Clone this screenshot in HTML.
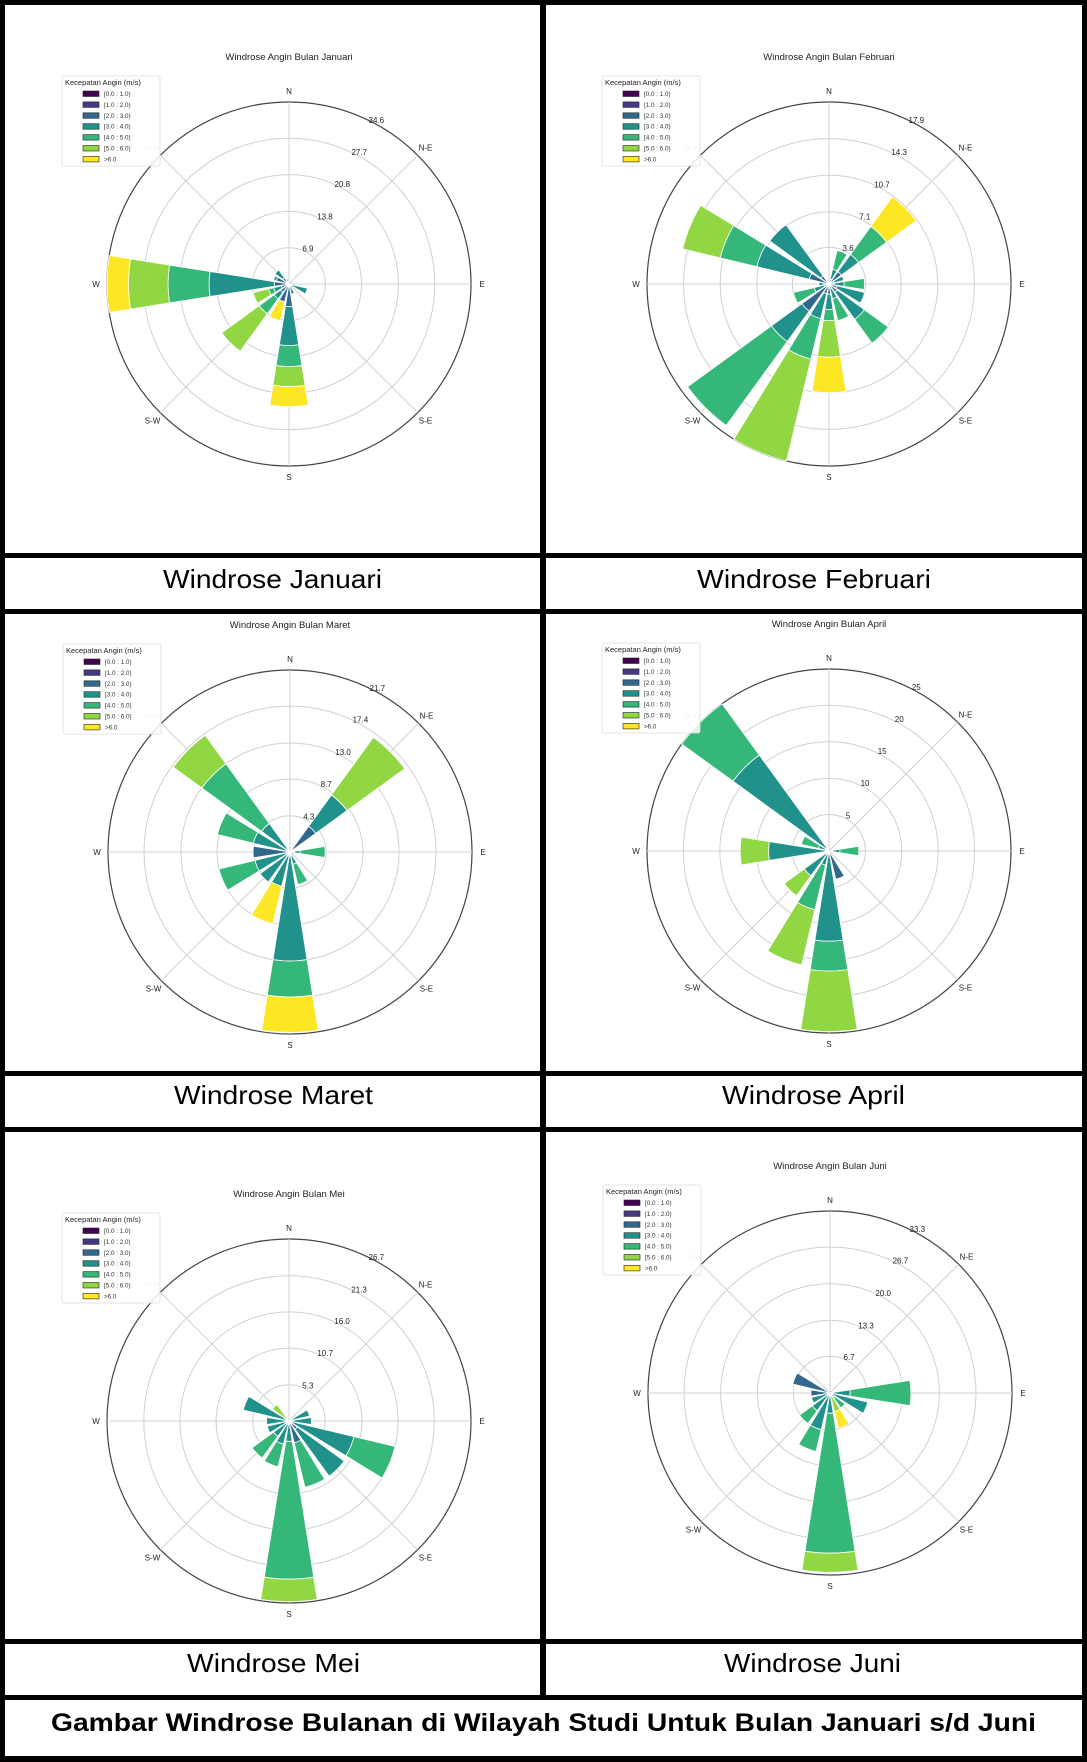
<!DOCTYPE html>
<html><head><meta charset="utf-8"><title>Windrose Bulanan</title>
<style>
html,body{margin:0;padding:0;background:#fff}
svg{display:block;font-family:"Liberation Sans",Arial,sans-serif}
</style></head>
<body>
<svg id="root" width="1087" height="1762" viewBox="0 0 1087 1762" xmlns="http://www.w3.org/2000/svg">
<rect x="0" y="0" width="1087" height="1762" fill="#000"/>
<g fill="#fff">
<rect x="5" y="5" width="535" height="548"/>
<rect x="546" y="5" width="536" height="548"/>
<rect x="5" y="558" width="535" height="51"/>
<rect x="546" y="558" width="536" height="51"/>
<rect x="5" y="614" width="535" height="457"/>
<rect x="546" y="614" width="536" height="457"/>
<rect x="5" y="1076" width="535" height="51"/>
<rect x="546" y="1076" width="536" height="51"/>
<rect x="5" y="1132" width="535" height="507"/>
<rect x="546" y="1132" width="536" height="507"/>
<rect x="5" y="1644" width="535" height="51"/>
<rect x="546" y="1644" width="536" height="51"/>
<rect x="5" y="1700" width="1077" height="56"/>
</g>
<g font-size="26" fill="#000">
<text x="163" y="588" textLength="219" lengthAdjust="spacingAndGlyphs">Windrose Januari</text>
<text x="697" y="588" textLength="234" lengthAdjust="spacingAndGlyphs">Windrose Februari</text>
<text x="174" y="1104" textLength="199" lengthAdjust="spacingAndGlyphs">Windrose Maret</text>
<text x="722" y="1104" textLength="183" lengthAdjust="spacingAndGlyphs">Windrose April</text>
<text x="187" y="1672" textLength="173" lengthAdjust="spacingAndGlyphs">Windrose Mei</text>
<text x="724" y="1672" textLength="177" lengthAdjust="spacingAndGlyphs">Windrose Juni</text>
<text x="51" y="1731" font-weight="bold" font-size="25" textLength="985" lengthAdjust="spacingAndGlyphs">Gambar Windrose Bulanan di Wilayah Studi Untuk Bulan Januari s/d Juni</text>
</g>
<g id="charts"></g>
</svg>
<script>
const directions = ["N","NNE","NE","ENE","E","ESE","SE","SSE","S","SSW","SW","WSW","W","WNW","NW","NNW"];
const speedBins = ["[0.0 : 1.0)","[1.0 : 2.0)","[2.0 : 3.0)","[3.0 : 4.0)","[4.0 : 5.0)","[5.0 : 6.0)",">6.0"];
const binColors = ["#440154","#443983","#31688e","#21918c","#35b779","#90d743","#fde725"];
const Z=[0,0,0,0,0,0,0];
const janData = [Z,Z,Z,Z,Z,[0,0,0.5,3.1,0,0,0],[0,0,0.3,0.7,0,0,0],[0,0,0.5,1.5,0,0,0],[0,0,4.3,7.4,4.0,3.8,3.8],[0,0,3.5,0,0,0,3.7],[0,0,2.0,1.5,3.5,8.8,0],[0,0,1.5,1.5,1.0,3.0,0],[0,0,2.8,12.4,7.8,7.5,4.1],[0,0,2.5,0.5,0,0,0],[0,0,1.5,1.8,0,0,0],[0,0,1.0,0,0,0,0]];
const febData = [Z,[0,0,0.5,1.0,1.9,0,0],[0,0,1.5,2.1,3.4,0,3.6],[0,0,0.5,1,0,0,0],[0,0,0.5,1.0,2.0,0,0],[0,0,0.8,2.8,0,0,0],[0,0,1.0,3.3,2.9,0,0],[0,0,0.5,1.0,2.2,0,0],[0,0,1.0,1.5,1.1,3.6,3.5],[0,0,1.0,2.5,4.1,10.3,0],[0,0,3.3,3.7,10.2,0,0],[0,0,0.5,1.0,2.1,0,0],[0,0,0.5,0.5,0,0,0],[0,0,2.0,5.3,3.7,3.8,0],[0,0,1.0,6.2,0,0,0],Z];
const marData = [Z,Z,[0,0,3.8,4.6,0,8.5,0],Z,[0,0,0.5,0.7,3.0,0,0],Z,Z,[0,0,0.5,1.0,2.5,0,0],[0,0,0.5,12.5,4.3,0,4.2],[0,0,0.5,3.7,0,0,4.6],[0,0,0.5,3.9,0,0,0],[0,0,0.5,3.8,4.4,0,0],[0,0,4.4,0,0,0,0],[0,0,0.5,4.0,4.4,0,0],[0,0,0.5,3.7,8.8,4.2,0],Z];
const aprData = [Z,Z,Z,Z,[0,0,0.5,1.0,2.6,0,0],Z,Z,[0,0,4.0,0,0,0,0],[0,0,0.5,11.9,4.1,8.3,0],[0,0,0.5,1.5,6.3,7.8,0],[0,0,0.5,3.7,0,3.4,0],Z,[0,0,0.5,7.8,0,3.9,0],[0,0,0.5,1.0,2.4,0,0],[0,0,0.5,15.8,8.7,0,0],Z];
const meiData = [Z,Z,Z,[0,0,0.5,2.6,0,0,0],[0,0,0.5,2.8,0,0,0],[0,0,0.5,9.3,6.2,0,0],[0,0,1.5,8.5,0,0,0],[0,0,3.3,0,6.7,0,0],[0,0,0.5,2.5,20.2,3.3,0],[0,0,0.5,3.0,3.4,0,0],[0,0,0.5,2.3,3.9,0,0],[0,0,0.5,2.8,0,0,0],[0,0,0.5,2.8,0,0,0],[0,0,0.5,6.4,0,0,0],[0,0,0,0,0,3.0,0],Z];
const junData = [Z,Z,Z,Z,[0,0,0.5,3.2,11.1,0,0],[0,0,0.5,6.6,0,0,0],[0,0,0.5,0.5,2.4,0,0],[0,0,0,0,0.5,3.0,3.1],[0,0,0.5,3.2,25.6,3.5,0],[0,0,0.5,6.4,4.1,0,0],[0,0,0.5,3.5,2.9,0,0],[0,0,0.5,3.0,0,0,0],[0,0,3.5,0,0,0,0],[0,0,7.0,0,0,0,0],Z,Z];
const janTicks = ["6.9","13.8","20.8","27.7","34.6"];
const febTicks = ["3.6","7.1","10.7","14.3","17.9"];
const marTicks = ["4.3","8.7","13.0","17.4","21.7"];
const aprTicks = ["5","10","15","20","25"];
const meiTicks = ["5.3","10.7","16.0","21.3","26.7"];
const junTicks = ["6.7","13.3","20.0","26.7","33.3"];
const monthNames = ["Januari","Februari","Maret","April","Mei","Juni"];

const NS="http://www.w3.org/2000/svg";
function mk(tag,attrs,parent){const e=document.createElementNS(NS,tag);for(const k in attrs)e.setAttribute(k,attrs[k]);if(parent)parent.appendChild(e);return e;}

function drawChart(cx,cy,R,data,ticks,month){
  const root=document.getElementById('charts');
  const g=mk('g',{},root);
  
  
  const maxV=parseFloat(ticks[ticks.length-1]);
  const rs=v=>v/maxV*R;
  const t=mk('text',{x:cx,y:cy-224,'text-anchor':'middle','font-size':'9.5',fill:'#222'},g);
  t.textContent='Windrose Angin Bulan '+month;
  
  
  for(let i=0;i<ticks.length;i++){
    const r=rs(parseFloat(ticks[i]));
    const c=mk('circle',{cx:cx,cy:cy,r:r,fill:'none',stroke:i==ticks.length-1?'#444':'#d0d0d0','stroke-width':i==ticks.length-1?1.2:1},g);
    
    
  }
  for(let k=0;k<8;k++){
    const a=k*Math.PI/4;
    const l=mk('line',{x1:cx,y1:cy,x2:cx+R*Math.sin(a),y2:cy-R*Math.cos(a),stroke:'#d0d0d0','stroke-width':1},g);
    
    
  }
  const half=9*Math.PI/180;
  for(let d=0;d<data.length;d++){
    const th=d*Math.PI/8;let acc=0;
    for(let b=0;b<7;b++){
      const v=data[d][b];if(v<=0)continue;
      const r0=rs(acc),r1=rs(acc+v);acc+=v;
      const a0=th-half,a1=th+half;
      const p=(r,a)=>(cx+r*Math.sin(a)).toFixed(2)+','+(cy-r*Math.cos(a)).toFixed(2);
      const dpath='M'+p(r0,a0)+' L'+p(r1,a0)+' A'+r1+','+r1+' 0 0 1 '+p(r1,a1)+' L'+p(r0,a1)+(r0>0?' A'+r0+','+r0+' 0 0 0 '+p(r0,a0):'')+' Z';
      const s=mk('path',{d:dpath,fill:binColors[b],stroke:'#fff','stroke-width':0.8},g);
      
      
    }
  }
  for(let i=0;i<ticks.length;i++){
    const r=rs(parseFloat(ticks[i]))+4;const a=28*Math.PI/180;
    const tl=mk('text',{x:cx+r*Math.sin(a),y:cy-r*Math.cos(a)+3,'text-anchor':'middle','font-size':'8',fill:'#222'},g);
    tl.textContent=ticks[i];
    
    
  }
  const dl=["N","N-E","E","S-E","S","S-W","W","N-W"];
  for(let k=0;k<8;k++){
    const a=k*Math.PI/4,r=R+11;
    const tx=mk('text',{x:cx+r*Math.sin(a),y:cy-r*Math.cos(a)+3,'text-anchor':'middle','font-size':'8',fill:k==7?'#bbb':'#222'},g);
    tx.textContent=dl[k];
    
    
  }
  const lx=cx-227,ly=cy-208;
  const lg=mk('g',{},g);
  
  
  mk('rect',{x:lx,y:ly,width:98,height:90,fill:'#fff','fill-opacity':0.85,stroke:'#ddd','stroke-width':0.8,rx:2},lg);
  const lt=mk('text',{x:lx+3,y:ly+9,'font-size':'7.5',fill:'#222'},lg);
  lt.textContent='Kecepatan Angin (m/s)';
  
  
  for(let b=0;b<7;b++){
    const yy=ly+15+b*10.9;
    const sw=mk('rect',{x:lx+21,y:yy,width:16,height:5.5,fill:binColors[b],stroke:'#222','stroke-width':0.6},lg);
    
    
    const et=mk('text',{x:lx+42,y:yy+5,'font-size':'6.3',fill:'#333'},lg);
    et.textContent=speedBins[b];
    
    
  }
}
drawChart(289,284,182,janData,janTicks,monthNames[0]);
drawChart(829,284,182,febData,febTicks,monthNames[1]);
drawChart(290,852,182,marData,marTicks,monthNames[2]);
drawChart(829,851,182,aprData,aprTicks,monthNames[3]);
drawChart(289,1421,182,meiData,meiTicks,monthNames[4]);
drawChart(830,1393,182,junData,junTicks,monthNames[5]);
</script>
</body></html>
